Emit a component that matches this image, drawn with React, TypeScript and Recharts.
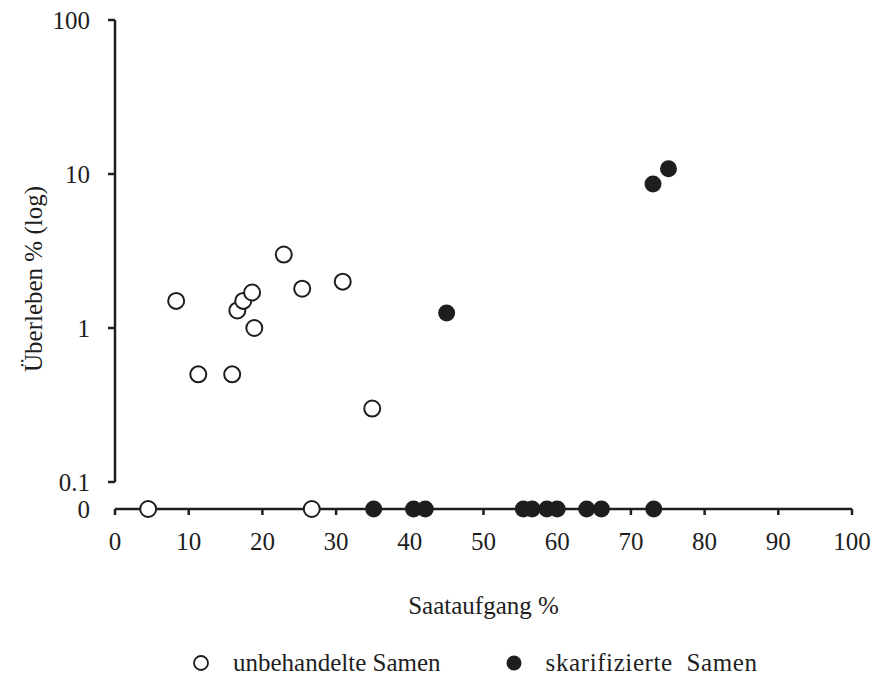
import React from 'react';
import { ScatterChart, Scatter, XAxis, YAxis } from 'recharts';

// Saataufgang % (x) und Überleben % (y), 0 = kein Überleben
const untreatedEmergence = [4.5, 8.3, 11.3, 15.9, 16.6, 17.4, 18.6, 18.9, 22.9, 25.4, 26.7, 30.9, 34.9];
const untreatedSurvival = [0, 1.5, 0.5, 0.5, 1.3, 1.5, 1.7, 1.0, 3.0, 1.8, 0, 2.0, 0.3];
const scarifiedEmergence = [35.1, 40.5, 42.1, 45.0, 55.4, 56.6, 58.6, 60.0, 64.0, 66.0, 73.1, 73.0, 75.1];
const scarifiedSurvival = [0, 0, 0, 1.25, 0, 0, 0, 0, 0, 0, 0, 8.6, 10.8];

const xTicks = [0, 10, 20, 30, 40, 50, 60, 70, 80, 90, 100];
const yTicks = [0.1, 1, 10, 100];
const legendItems = [
  { name: 'unbehandelte Samen', filled: false },
  { name: 'skarifizierte  Samen', filled: true },
];

const INK = '#1e1e1e';
const FONT = '"Liberation Serif", "Times New Roman", serif';

const toPoints = (xs: number[], ys: number[]) => xs.map((x, i) => ({ x, y: ys[i] }));
const untreated = toPoints(untreatedEmergence, untreatedSurvival);
const scarified = toPoints(scarifiedEmergence, scarifiedSurvival);

const OpenDot = (props: any) => (
  <circle cx={props.cx} cy={props.cy} r={8} fill="#fff" stroke={INK} strokeWidth={2} />
);
const FilledDot = (props: any) => <circle cx={props.cx} cy={props.cy} r={8.5} fill={INK} />;

const tickStyle = { fill: INK, fontSize: 25, fontFamily: FONT };
const labelStyle = { fill: INK, fontSize: 25, fontFamily: FONT };
const axisLine = { stroke: INK, strokeWidth: 2.5 };

const ChartLegend = () => (
  <div
    style={{
      position: 'absolute', left: 0, top: 650, width: 874, display: 'flex', alignItems: 'center',
      fontFamily: FONT, fontSize: 25, color: INK, lineHeight: '26px',
    }}
  >
    {legendItems.map((item, i) => (
      <div key={item.name} style={{ display: 'flex', alignItems: 'center', marginLeft: i === 0 ? 192 : 64 }}>
        <svg width={18} height={18} style={{ marginRight: 23 }}>
          {item.filled ? (
            <circle cx={9} cy={9} r={7.5} fill={INK} />
          ) : (
            <circle cx={9} cy={9} r={7} fill="#fff" stroke={INK} strokeWidth={1.8} />
          )}
        </svg>
        <span style={{ whiteSpace: 'pre', letterSpacing: i === 0 ? 0 : 0.6 }}>{item.name}</span>
      </div>
    ))}
  </div>
);

export default function App() {
  return (
    <div style={{ position: 'absolute', left: 0, top: 0, width: 874, height: 678, background: '#fff' }}>
      {/* log part: 0.1 .. 100 */}
      <div style={{ position: 'absolute', left: 0, top: 0 }}>
        <ScatterChart width={874} height={678} margin={{ top: 20, right: 22, bottom: 196, left: 0 }}>
          <XAxis type="number" dataKey="x" domain={[0, 100]} hide />
          <YAxis
            type="number"
            dataKey="y"
            scale="log"
            domain={[0.1, 100]}
            ticks={yTicks}
            width={115}
            tickSize={7}
            tickMargin={18}
            tick={tickStyle}
            axisLine={axisLine}
            tickLine={axisLine}
            tickFormatter={(v: number) => String(v)}
            label={{ value: 'Überleben % (log)', angle: -90, position: 'center', dx: -24, dy: 28, style: labelStyle }}
          />
          <Scatter data={untreated.filter((p) => p.y > 0)} shape={<OpenDot />} isAnimationActive={false} />
          <Scatter data={scarified.filter((p) => p.y > 0)} shape={<FilledDot />} isAnimationActive={false} />
        </ScatterChart>
      </div>
      {/* zero row with the x axis */}
      <div style={{ position: 'absolute', left: 0, top: 0 }}>
        <ScatterChart width={874} height={678} margin={{ top: 470, right: 22, bottom: 59, left: 0 }}>
          <XAxis
            type="number"
            dataKey="x"
            domain={[0, 100]}
            ticks={xTicks}
            height={110}
            tickSize={6}
            tickMargin={17}
            tick={tickStyle}
            axisLine={axisLine}
            tickLine={axisLine}
            label={{ value: 'Saataufgang %', position: 'insideBottom', offset: 5, style: labelStyle }}
          />
          <YAxis
            type="number"
            dataKey="y"
            domain={[0, 1]}
            ticks={[0]}
            width={115}
            tickSize={7}
            tickMargin={18}
            tick={tickStyle}
            axisLine={false}
            tickLine={false}
          />
          <Scatter data={untreated.filter((p) => p.y === 0)} shape={<OpenDot />} isAnimationActive={false} />
          <Scatter data={scarified.filter((p) => p.y === 0)} shape={<FilledDot />} isAnimationActive={false} />
        </ScatterChart>
      </div>
      <ChartLegend />
    </div>
  );
}
